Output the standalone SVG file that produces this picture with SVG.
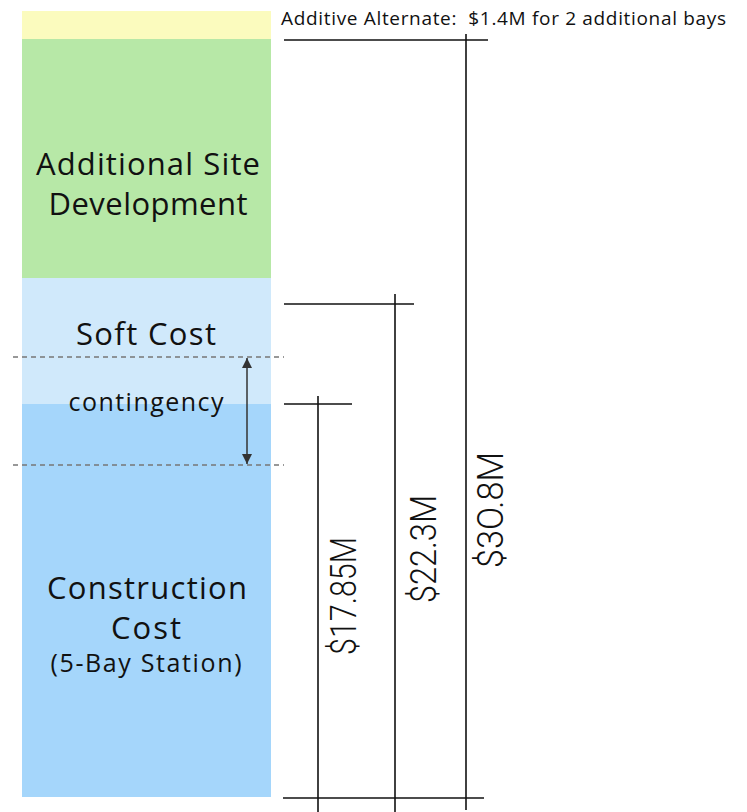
<svg xmlns="http://www.w3.org/2000/svg" width="747" height="812" viewBox="0 0 747 812">
  <style>
    .lbl { font-family: "Open Sans", "Liberation Sans", sans-serif; fill: #111; text-anchor: middle; }
    .big { font-size: 31px; }
    .mid { font-size: 25px; }
    .note { font-family: "Open Sans", "Liberation Sans", sans-serif; font-size: 19px; fill: #111; white-space: pre; }
    .amt { font-family: "Roboto", "Liberation Sans", sans-serif; font-weight: 300; font-size: 37px; fill: #111; text-anchor: middle; }
    .dim { stroke: #111; stroke-width: 1.6; fill: none; }
    .dash { stroke: #777; stroke-width: 1.3; stroke-dasharray: 5 4; fill: none; }
  </style>
  <defs>
    <marker id="ah" viewBox="0 0 10 10" refX="10" refY="5" markerWidth="10" markerHeight="10" markerUnits="userSpaceOnUse" orient="auto-start-reverse">
      <path d="M0,0 L10,5 L0,10 z" fill="#333"/>
    </marker>
  </defs>
  <rect width="747" height="812" fill="#fff"/>

  <g id="alternate">
    <rect x="22" y="11" width="249" height="28" fill="#fbfbbe"/>
  </g>
  <g id="site-development">
    <rect x="22" y="39" width="249" height="239" fill="#b7e8a7"/>
    <text class="lbl big" x="148" y="175" textLength="224" lengthAdjust="spacing">Additional Site</text>
    <text class="lbl big" x="148" y="215" textLength="199" lengthAdjust="spacing">Development</text>
  </g>
  <g id="soft-cost">
    <rect x="22" y="278" width="249" height="126" fill="#d0e9fb"/>
    <text class="lbl big" x="146" y="345" textLength="140" lengthAdjust="spacing">Soft Cost</text>
  </g>
  <g id="construction-cost">
    <rect x="22" y="404" width="249" height="393" fill="#a5d6fb"/>
    <text class="lbl big" x="147" y="599" textLength="200" lengthAdjust="spacing">Construction</text>
    <text class="lbl big" x="146" y="639" textLength="70" lengthAdjust="spacing">Cost</text>
    <text class="lbl mid" x="146" y="672" textLength="191" lengthAdjust="spacing">(5-Bay Station)</text>
  </g>
  <g id="contingency">
    <text class="lbl mid" x="146" y="411" textLength="155" lengthAdjust="spacing">contingency</text>
  </g>

  <text class="note" x="281" y="25" textLength="445" lengthAdjust="spacing">Additive Alternate:  $1.4M for 2 additional bays</text>

  <g id="connectors">
    <line class="dash" x1="13" y1="357" x2="284" y2="357"/>
    <line class="dash" x1="13" y1="465" x2="284" y2="465"/>
    <line x1="247" y1="358" x2="247" y2="464" stroke="#333" stroke-width="1.5" marker-start="url(#ah)" marker-end="url(#ah)"/>

    <line class="dim" x1="284" y1="40" x2="488" y2="40"/>
    <line class="dim" x1="466" y1="34" x2="466" y2="810"/>
    <line class="dim" x1="284" y1="304" x2="414" y2="304"/>
    <line class="dim" x1="395" y1="294" x2="395" y2="812"/>
    <line class="dim" x1="284" y1="404" x2="352" y2="404"/>
    <line class="dim" x1="318" y1="396" x2="318" y2="812"/>
    <line class="dim" x1="283" y1="798" x2="484" y2="798"/>
  </g>

  <text class="amt" transform="translate(356 596) rotate(-90)" textLength="118" lengthAdjust="spacingAndGlyphs">$17.85M</text>
  <text class="amt" transform="translate(436 549) rotate(-90)" textLength="108" lengthAdjust="spacingAndGlyphs">$22.3M</text>
  <text class="amt" transform="translate(503 510) rotate(-90)" textLength="116" lengthAdjust="spacingAndGlyphs">$3O.8M</text>
</svg>
